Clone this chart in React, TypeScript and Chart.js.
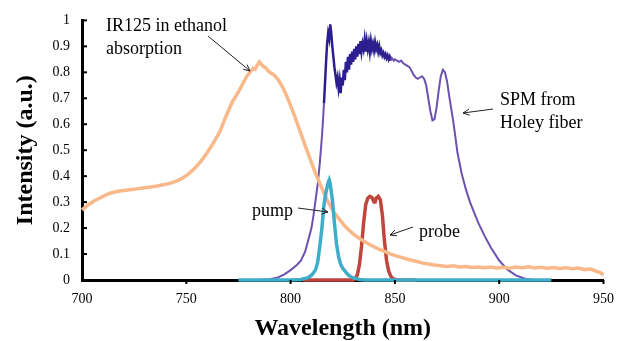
import React, { useEffect, useRef } from 'react';
import { Chart, registerables } from 'chart.js';

Chart.register(...registerables);

// IR125 in ethanol absorption
const absWl = [700, 703, 706, 709, 712, 715, 718, 721, 724, 727, 730, 733, 736, 739, 742, 745, 748, 751, 754, 757, 760, 763, 766, 769, 772, 775, 777, 779, 781, 782, 783, 784, 785, 786, 787, 788, 789, 790, 792, 794, 796, 798, 800, 802, 804, 806, 808, 810, 812, 814, 816, 818, 820, 822, 824, 826, 828, 830, 833, 836, 839, 842, 845, 848, 851, 854, 857, 860, 863, 866, 869, 872, 875, 878, 881, 884, 887, 890, 893, 896, 899, 902, 905, 908, 911, 914, 917, 920, 923, 926, 929, 932, 935, 938, 941, 944, 946, 948, 950];
const absVal = [0.27, 0.29, 0.305, 0.318, 0.33, 0.338, 0.343, 0.346, 0.349, 0.352, 0.355, 0.358, 0.362, 0.367, 0.372, 0.38, 0.392, 0.408, 0.43, 0.457, 0.49, 0.528, 0.57, 0.63, 0.685, 0.725, 0.755, 0.785, 0.805, 0.815, 0.812, 0.828, 0.84, 0.83, 0.822, 0.818, 0.808, 0.8, 0.79, 0.772, 0.745, 0.712, 0.672, 0.63, 0.585, 0.54, 0.495, 0.452, 0.41, 0.372, 0.335, 0.3, 0.272, 0.248, 0.228, 0.208, 0.192, 0.178, 0.16, 0.145, 0.132, 0.12, 0.11, 0.1, 0.092, 0.085, 0.078, 0.072, 0.066, 0.062, 0.058, 0.055, 0.052, 0.055, 0.05, 0.052, 0.048, 0.05, 0.047, 0.05, 0.046, 0.049, 0.045, 0.05, 0.047, 0.051, 0.046, 0.049, 0.045, 0.048, 0.044, 0.047, 0.043, 0.046, 0.04, 0.042, 0.035, 0.03, 0.02];

// SPM from Holey fiber
const spmWl = [780, 785, 790, 794, 797, 800, 803, 805, 807, 808, 809, 810, 811, 812, 813, 814, 815, 815.5, 816, 816.5, 817, 817.5, 818, 818.5, 819, 819.5, 820, 820.5, 821, 821.5, 822, 822.5, 823, 823.5, 824, 824.5, 825, 825.5, 826, 826.5, 827, 827.5, 828, 828.5, 829, 829.5, 830, 830.5, 831, 831.5, 832, 832.5, 833, 833.5, 834, 834.5, 835, 835.5, 836, 836.5, 837, 837.5, 838, 838.5, 839, 839.5, 840, 840.5, 841, 841.5, 842, 842.5, 843, 843.5, 844, 844.5, 845, 845.5, 846, 846.5, 847, 847.5, 848, 848.5, 849, 849.5, 850, 851, 852, 853, 854, 855, 856, 857, 858, 859, 860, 861, 862, 863, 864, 865, 866, 867, 868, 869, 870, 871, 872, 873, 874, 875, 876, 877, 878, 879, 880, 882, 884, 886, 888, 890, 893, 896, 900, 904, 908, 912, 916];
const spmVal = [0, 0, 0.003, 0.01, 0.022, 0.038, 0.058, 0.075, 0.11, 0.14, 0.17, 0.2, 0.25, 0.31, 0.37, 0.45, 0.55, 0.61, 0.68, 0.76, 0.84, 0.91, 0.95, 0.93, 0.985, 0.95, 0.9, 0.86, 0.82, 0.79, 0.76, 0.78, 0.74, 0.77, 0.72, 0.78, 0.75, 0.81, 0.77, 0.84, 0.8, 0.86, 0.81, 0.87, 0.83, 0.88, 0.84, 0.89, 0.85, 0.9, 0.86, 0.91, 0.87, 0.92, 0.88, 0.91, 0.89, 0.925, 0.88, 0.92, 0.89, 0.915, 0.88, 0.92, 0.89, 0.91, 0.885, 0.915, 0.89, 0.905, 0.88, 0.9, 0.875, 0.885, 0.865, 0.875, 0.86, 0.87, 0.855, 0.865, 0.85, 0.86, 0.845, 0.855, 0.85, 0.845, 0.85, 0.845, 0.84, 0.845, 0.835, 0.83, 0.825, 0.82, 0.805, 0.79, 0.78, 0.775, 0.78, 0.785, 0.775, 0.75, 0.7, 0.65, 0.615, 0.62, 0.665, 0.73, 0.785, 0.81, 0.8, 0.765, 0.71, 0.66, 0.61, 0.55, 0.49, 0.41, 0.35, 0.3, 0.26, 0.22, 0.17, 0.125, 0.075, 0.04, 0.018, 0.006, 0];

// pump
const pumpWl = [775, 800, 805, 808, 810, 811, 812, 813, 814, 815, 816, 817, 818, 818.5, 819, 820, 821, 822, 823, 824, 825, 826, 827, 828, 830, 833, 836, 925];
const pumpVal = [0, 0, 0.002, 0.008, 0.018, 0.028, 0.04, 0.07, 0.13, 0.2, 0.29, 0.34, 0.375, 0.385, 0.37, 0.31, 0.22, 0.14, 0.09, 0.06, 0.045, 0.035, 0.025, 0.017, 0.008, 0.002, 0, 0];

// probe
const probeWl = [806, 830, 831, 832, 833, 834, 835, 836, 837, 838, 839, 840, 840.5, 841, 842, 843, 844, 845, 846, 847, 848, 849, 851, 860];
const probeVal = [0, 0, 0.005, 0.02, 0.06, 0.13, 0.22, 0.29, 0.315, 0.322, 0.318, 0.3, 0.3, 0.315, 0.322, 0.31, 0.25, 0.15, 0.075, 0.035, 0.015, 0.005, 0, 0];

const xTicks = [700, 750, 800, 850, 900, 950];
const yTicks = [0, 0.1, 0.2, 0.3, 0.4, 0.5, 0.6, 0.7, 0.8, 0.9, 1];

const SERIF = '"Liberation Serif", "Times New Roman", serif';

const toPts = (xs: number[], ys: number[]) => xs.map((x, i) => ({ x, y: ys[i] }));

function arrow(ctx: CanvasRenderingContext2D, x1: number, y1: number, x2: number, y2: number) {
  const ang = Math.atan2(y2 - y1, x2 - x1);
  const h = 7;
  ctx.beginPath();
  ctx.moveTo(x1, y1);
  ctx.lineTo(x2, y2);
  ctx.moveTo(x2 - h * Math.cos(ang - 0.45), y2 - h * Math.sin(ang - 0.45));
  ctx.lineTo(x2, y2);
  ctx.lineTo(x2 - h * Math.cos(ang + 0.45), y2 - h * Math.sin(ang + 0.45));
  ctx.stroke();
}

const annotPlugin = {
  id: 'annot',
  afterDraw(chart: any) {
    const ctx: CanvasRenderingContext2D = chart.ctx;
    const xs = chart.scales.x;
    const ys = chart.scales.y;
    ctx.save();
    // tick marks
    ctx.strokeStyle = '#000';
    ctx.lineWidth = 2;
    yTicks.forEach((v) => {
      if (v === 0) return;
      const py = ys.getPixelForValue(v);
      ctx.beginPath();
      ctx.moveTo(xs.left, py);
      ctx.lineTo(xs.left + 5, py);
      ctx.stroke();
    });
    xTicks.forEach((v) => {
      if (v === 700) return;
      const px = xs.getPixelForValue(v);
      ctx.beginPath();
      ctx.moveTo(px, ys.bottom);
      ctx.lineTo(px, ys.bottom + 4);
      ctx.stroke();
    });
    // annotations
    ctx.fillStyle = '#000';
    ctx.font = '18px ' + SERIF;
    ctx.textBaseline = 'middle';
    ctx.textAlign = 'left';
    ctx.fillText('IR125 in ethanol', 106, 26);
    ctx.fillText('absorption', 106, 49);
    ctx.fillText('SPM from', 500, 100);
    ctx.fillText('Holey fiber', 500, 123);
    ctx.fillText('pump', 252, 211);
    ctx.fillText('probe', 419, 232);
    ctx.strokeStyle = '#222';
    ctx.lineWidth = 1;
    arrow(ctx, 208, 36, 250, 71);
    arrow(ctx, 493, 109, 463, 113);
    arrow(ctx, 298, 208, 328, 212);
    arrow(ctx, 413, 227, 390, 235);
    ctx.restore();
  },
};

export default function App() {
  const ref = useRef<HTMLCanvasElement | null>(null);
  useEffect(() => {
    if (!ref.current) return;
    const chart = new Chart(ref.current, {
      type: 'scatter',
      data: {
        datasets: [
          {
            label: 'pump',
            data: toPts(pumpWl, pumpVal),
            showLine: true,
            borderColor: '#3DADC9',
            backgroundColor: '#3DADC9',
            borderWidth: 3.5,
            pointRadius: 0,
            tension: 0,
            order: 0,
            clip: false,
          },
          {
            label: 'IR125 in ethanol absorption',
            data: toPts(absWl, absVal),
            showLine: true,
            borderColor: '#F8B88A',
            borderWidth: 3.5,
            pointRadius: 0,
            tension: 0,
            order: 1,
            clip: false,
          },
          {
            label: 'probe',
            data: toPts(probeWl, probeVal),
            showLine: true,
            borderColor: '#C0463D',
            backgroundColor: '#C0463D',
            borderWidth: 3.5,
            pointRadius: 0,
            tension: 0,
            order: 2,
            clip: false,
          },
          {
            label: 'SPM from Holey fiber',
            data: toPts(spmWl, spmVal),
            showLine: true,
            borderColor: '#6B52B0',
            borderWidth: 2,
            pointRadius: 0,
            tension: 0,
            order: 3,
            clip: false,
            segment: {
              borderColor: (c: any) =>
                c.p0.parsed.x >= 816 && c.p1.parsed.x <= 848 ? '#2C1E8E' : '#6B52B0',
              borderWidth: (c: any) =>
                c.p0.parsed.x >= 816 && c.p1.parsed.x <= 848 ? 2.5 : 2,
            },
          },
        ],
      },
      options: {
        responsive: false,
        maintainAspectRatio: false,
        animation: false,
        devicePixelRatio: 1,
        layout: { padding: { top: 18, right: 11, left: 0, bottom: 0 } },
        plugins: {
          legend: { display: false },
          tooltip: { enabled: false },
        },
        scales: {
          x: {
            type: 'linear',
            min: 700,
            max: 950,
            afterBuildTicks: (s: any) => {
              s.ticks = xTicks.map((v) => ({ value: v }));
            },
            afterFit: (s: any) => {
              s.height = 61;
            },
            grid: { display: false, drawTicks: false },
            border: { display: true, color: '#000', width: 3 },
            ticks: {
              color: '#000',
              padding: 11,
              maxRotation: 0,
              font: { family: SERIF, size: 14 },
            },
            title: {
              display: true,
              text: 'Wavelength (nm)',
              color: '#000',
              font: { family: SERIF, size: 24, weight: 'bold' },
              padding: { top: 0, bottom: -2 },
            },
          },
          y: {
            type: 'linear',
            min: 0,
            max: 1,
            afterBuildTicks: (s: any) => {
              s.ticks = yTicks.map((v) => ({ value: v }));
            },
            afterFit: (s: any) => {
              s.width = 82;
            },
            grid: { display: false, drawTicks: false },
            border: { display: true, color: '#000', width: 3 },
            ticks: {
              color: '#000',
              padding: 12,
              font: { family: SERIF, size: 14 },
              callback: (v: any) => String(Math.round(v * 10) / 10),
            },
            title: {
              display: true,
              text: 'Intensity (a.u.)',
              color: '#000',
              font: { family: SERIF, size: 24, weight: 'bold' },
              padding: { top: 11, bottom: 0 },
            },
          },
        },
      },
      plugins: [annotPlugin],
    } as any);
    return () => chart.destroy();
  }, []);
  return (
    <div style={{ position: 'fixed', left: 0, top: 0, width: 625, height: 341, background: '#fff' }}>
      <canvas ref={ref} width={625} height={341} />
    </div>
  );
}
